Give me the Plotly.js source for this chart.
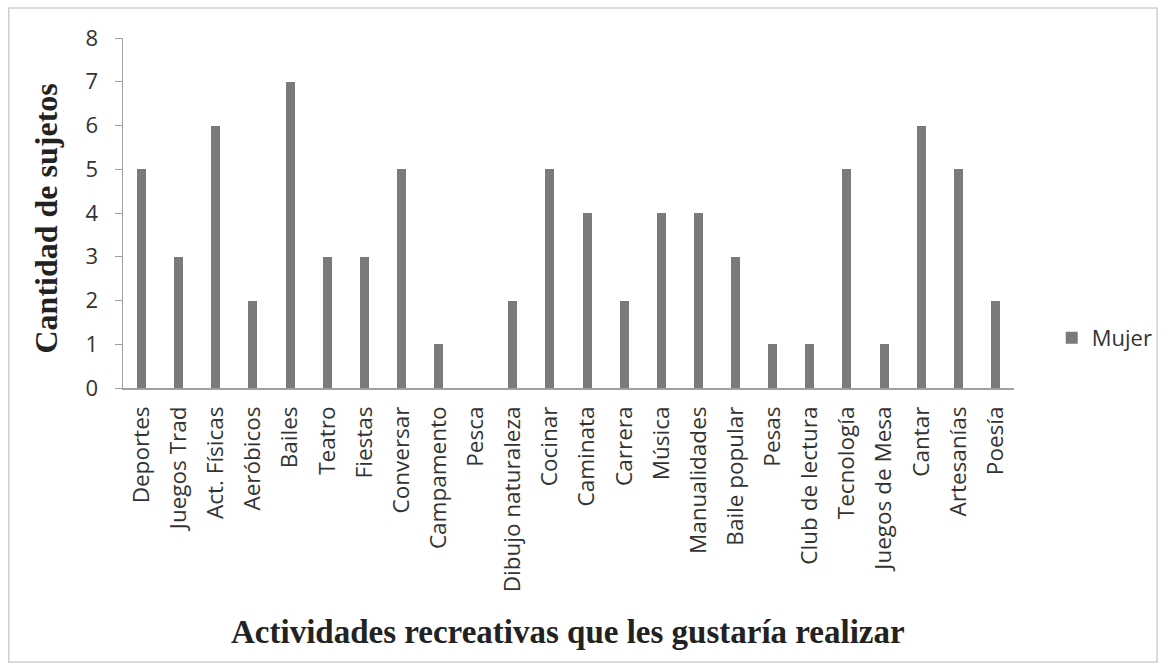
<!DOCTYPE html>
<html>
<head>
<meta charset="utf-8">
<script src="https://cdn.plot.ly/plotly-3.0.1.min.js"></script>
<style>html,body{margin:0;padding:0;background:#fff;}#chart{width:1170px;height:670px;}</style>
</head>
<body>
<div id="chart"></div>
<script>
const categories = ["Deportes","Juegos Trad","Act. Físicas","Aeróbicos","Bailes","Teatro","Fiestas","Conversar","Campamento","Pesca","Dibujo naturaleza","Cocinar","Caminata","Carrera","Música","Manualidades","Baile popular","Pesas","Club de lectura","Tecnología","Juegos de Mesa","Cantar","Artesanías","Poesía"];
const mujer = [5,3,6,2,7,3,3,5,1,0,2,5,4,2,4,4,3,1,1,5,1,6,5,2];
const yTicks = [0,1,2,3,4,5,6,7,8];

const L = 123, R = 1020, T = 38, B = 388;
const pw = R - L, ph = B - T;
function px(x){return (x - L)/pw;}
function py(y){return (B - y)/ph;}

const data = [{
  type: 'bar',
  name: 'Mujer',
  x: categories,
  y: mujer,
  width: 0.24,
  marker: {color: '#7a7a7a', line: {width: 0}},
  showlegend: true
}];

const layout = {
  width: 1170, height: 670,
  margin: {l: L, r: 1170 - R, t: T, b: 670 - B, pad: 0},
  paper_bgcolor: '#ffffff',
  plot_bgcolor: '#ffffff',
  font: {family: '"Open Sans", sans-serif', color: '#333'},
  bargap: 0,
  xaxis: {
    type: 'category',
    tickangle: -90,
    tickfont: {size: 22.5, color: '#333'},
    ticklabelstandoff: 8,
    showline: true, linecolor: '#a0a0a0', linewidth: 1.5,
    showgrid: false, ticks: '', zeroline: false,
    automargin: false
  },
  yaxis: {
    range: [0, 8],
    tickvals: yTicks,
    ticktext: yTicks.map(String),
    tickfont: {size: 22, color: '#333'},
    ticklabelstandoff: 12,
    showline: true, linecolor: '#a0a0a0', linewidth: 1.5,
    ticks: 'outside', ticklen: 7, tickcolor: '#a0a0a0',
    showgrid: false, zeroline: false,
    automargin: false
  },
  legend: {
    x: px(1058), y: py(338), xanchor: 'left', yanchor: 'middle',
    font: {size: 22, color: '#333'},
    bgcolor: 'rgba(0,0,0,0)'
  },
  annotations: [
    {text: '<b>Cantidad de sujetos</b>', xref: 'paper', yref: 'paper',
     x: px(45), y: py(219), xanchor: 'center', yanchor: 'middle',
     textangle: -90, showarrow: false,
     font: {family: '"Liberation Serif", "Times New Roman", serif', size: 32, color: '#222'}},
    {text: '<b>Actividades recreativas que les gustaría realizar</b>', xref: 'paper', yref: 'paper',
     x: px(571), y: py(632), xanchor: 'center', yanchor: 'middle', showarrow: false,
     font: {family: '"Liberation Serif", "Times New Roman", serif', size: 33, color: '#222'}}
  ],
  shapes: [
    {type: 'rect', xref: 'paper', yref: 'paper',
     x0: px(8), x1: px(1164), y0: py(662), y1: py(8),
     line: {color: '#d0d0d0', width: 1.5}, fillcolor: 'rgba(0,0,0,0)', layer: 'below'}
  ]
};

Plotly.newPlot('chart', data, layout, {displayModeBar: false, staticPlot: true});
</script>
</body>
</html>
